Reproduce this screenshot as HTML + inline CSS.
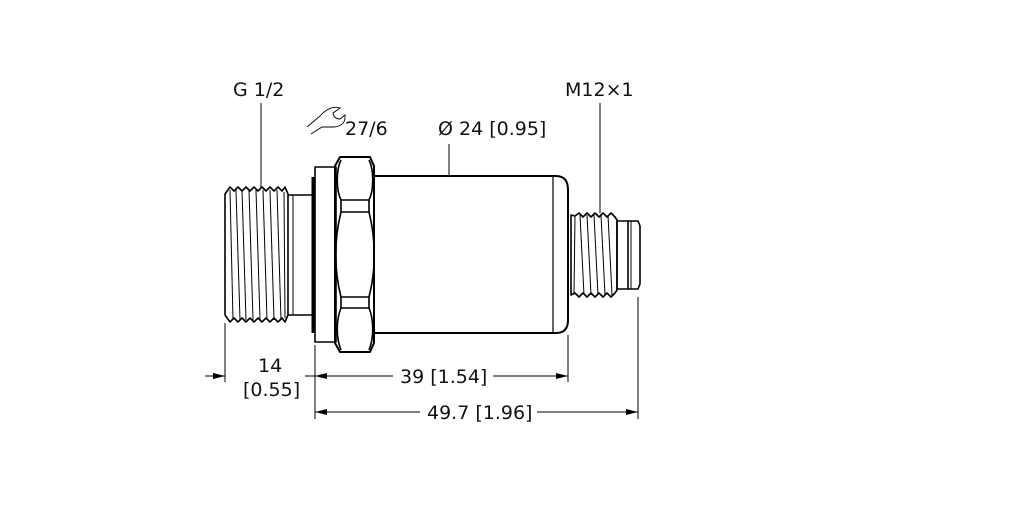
<!DOCTYPE html>
<html><head><meta charset="utf-8"><style>
html,body{margin:0;padding:0;background:#fff}
svg{display:block}
text{font-family:"DejaVu Sans","Liberation Sans",sans-serif;fill:#111}
</style></head><body>
<svg width="1022" height="511" viewBox="0 0 1022 511" xmlns="http://www.w3.org/2000/svg">
<g fill="none" stroke="#000" stroke-width="1.6" stroke-linejoin="round">
<path d="M225,194 L230,187 L234,191 L238,187 L242,191 L246,187 L250,191 L254,187 L258,191 L262,187 L266,191 L270,187 L274,191 L278,187 L282,191 L285,187 L288,194 L288,315 L285,322 L282,318 L278,322 L274,318 L270,322 L266,318 L262,322 L258,318 L254,322 L250,318 L246,322 L242,318 L238,322 L234,318 L230,322 L225,315 Z"/>
<g stroke-width="1">
<line x1="230" y1="190" x2="233" y2="320"/><line x1="236" y1="190" x2="240" y2="320"/><line x1="242" y1="190" x2="246" y2="320"/><line x1="249" y1="190" x2="253" y2="320"/><line x1="256" y1="190" x2="260" y2="320"/><line x1="263" y1="190" x2="267" y2="320"/><line x1="270" y1="190" x2="274" y2="320"/><line x1="277" y1="190" x2="281" y2="320"/><line x1="284" y1="192" x2="285" y2="318"/>
</g>
<path d="M288,195 L315,195 M288,315 L315,315"/>
<line x1="293" y1="195" x2="293" y2="315" stroke-width="1"/>
<rect x="315" y="167" width="21" height="175"/>
<line x1="313" y1="177" x2="313" y2="333" stroke-width="3"/>
<path d="M340,157 L370,157 L374,166 L374,343 L370,352 L340,352 L335,343 L335,166 Z" stroke-width="2"/>
<path d="M341,200 C336,190 336,170 341,160 M369,200 C374,190 374,170 369,160"/>
<rect x="341" y="200" width="28" height="12"/>
<rect x="341" y="297" width="28" height="11"/>
<path d="M341,212 C334,240 334,270 341,297 M369,212 C376,240 376,270 369,297"/>
<path d="M341,308 C336,320 336,338 341,350 M369,308 C374,320 374,338 369,350"/>
<path d="M374,176 L556,176 Q568,176 568,190 L568,320 Q568,333 556,333 L374,333" stroke-width="2"/>
<line x1="553" y1="176" x2="553" y2="333" stroke-width="1.2"/>
<path d="M571,215 L575,216 L579,213 L583,217 L587,213 L591,217 L595,213 L599,217 L603,213 L607,217 L611,213 L615,217 L617,220 L617,290 L615,293 L611,297 L607,293 L603,297 L599,293 L595,297 L591,293 L587,297 L583,293 L579,297 L575,293 L571,295 Z"/>
<g stroke-width="1">
<line x1="575" y1="216" x2="574" y2="294"/><line x1="580" y1="215" x2="584" y2="295"/><line x1="587" y1="215" x2="591" y2="295"/><line x1="594" y1="215" x2="598" y2="295"/><line x1="601" y1="215" x2="605" y2="295"/><line x1="608" y1="215" x2="612" y2="295"/>
</g>
<rect x="617" y="221" width="11" height="68"/>
<path d="M628,221 L638,221 L640,226 L640,284 L638,289 L628,289"/>
<line x1="631" y1="221" x2="631" y2="289" stroke-width="1"/>
</g>
<g stroke="#000" stroke-width="1" fill="none">
<line x1="261" y1="103" x2="261" y2="187"/>
<line x1="600" y1="103" x2="600" y2="213"/>
<line x1="449" y1="144" x2="449" y2="176"/>
<line x1="225" y1="323" x2="225" y2="382"/>
<line x1="315" y1="345" x2="315" y2="419"/>
<line x1="568" y1="335" x2="568" y2="382"/>
<line x1="638" y1="297" x2="638" y2="419"/>
<line x1="205" y1="376" x2="225" y2="376"/>
<line x1="305" y1="376" x2="334" y2="376"/>
<line x1="315" y1="376" x2="393" y2="376"/>
<line x1="493" y1="376" x2="568" y2="376"/>
<line x1="315" y1="412" x2="420" y2="412"/>
<line x1="537" y1="412" x2="638" y2="412"/>
<path d="M307,127 L320,116 Q330,105 340,108 L333,113 Q334,119 340,119 L345,115 Q346,126 334,127 L322,127 L311,134" stroke-width="0.9"/>
</g>
<g fill="#000">
<path d="M225,376 L213,373 L213,379 Z"/>
<path d="M315,376 L327,373 L327,379 Z"/>
<path d="M568,376 L556,373 L556,379 Z"/>
<path d="M315,412 L327,409 L327,415 Z"/>
<path d="M638,412 L626,409 L626,415 Z"/>
</g>
<g font-size="19">
<text x="233" y="96">G 1/2</text>
<text x="565" y="96">M12×1</text>
<text x="345" y="135">27/6</text>
<text x="438" y="135">Ø 24 [0.95]</text>
<text x="258" y="372">14</text>
<text x="243" y="396">[0.55]</text>
<text x="400" y="383">39 [1.54]</text>
<text x="427" y="419">49.7 [1.96]</text>
</g>
</svg>
</body></html>
